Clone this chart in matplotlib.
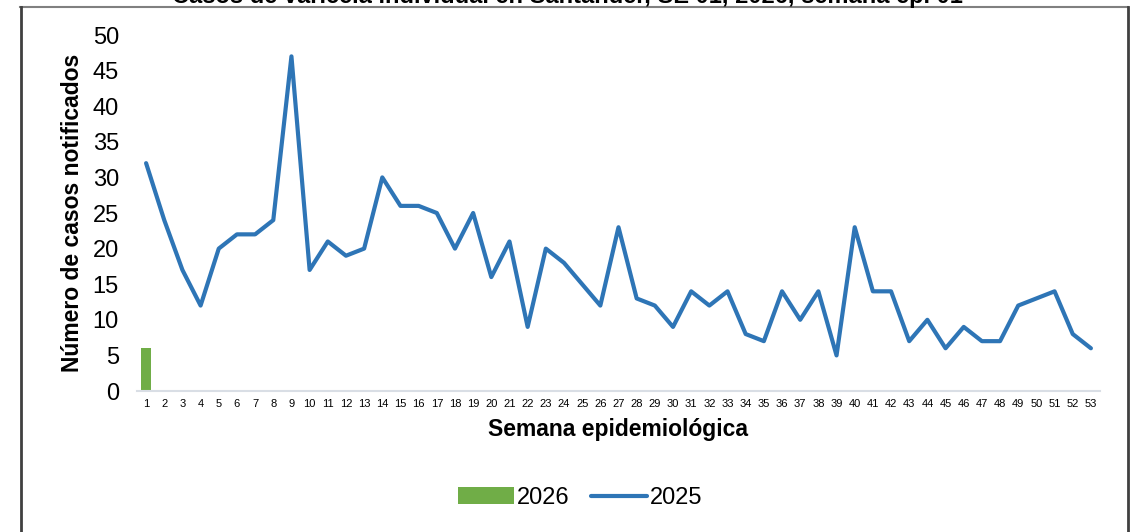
import numpy as np
import matplotlib
matplotlib.use('Agg')
import matplotlib.pyplot as plt
from matplotlib.lines import Line2D

plt.rcParams['font.family'] = ['Liberation Sans', 'DejaVu Sans']

# datos
semanas = list(range(1, 54))
casos_2025 = [32, 24, 17, 12, 20, 22, 22, 24, 47, 17,
              21, 19, 20, 30, 26, 26, 25, 20, 25, 16,
              21, 9, 20, 18, 15, 12, 23, 13, 12, 9,
              14, 12, 14, 8, 7, 14, 10, 14, 5, 23,
              14, 14, 7, 10, 6, 9, 7, 7, 12, 13,
              14, 8, 6]
semanas_2026 = [1]
casos_2026 = [6]

titulo = 'Casos de varicela individual en Santander, SE 01, 2026, semana epi 01'

fig = plt.figure(figsize=(11.37, 5.32), dpi=100)
ax = fig.add_axes([137/1137, 1 - 391/532, 963/1137, 356/532])

b = ax.bar(semanas_2026, casos_2026, width=0.55, color='#70ad47', label='2026', zorder=2)
l, = ax.plot(semanas, casos_2025, color='#2e75b6', linewidth=3, label='2025',
             solid_joinstyle='round', solid_capstyle='round', zorder=3)

ax.set_xlim(0.5, 53.5)
ax.set_ylim(0, 50)
ax.set_yticks(range(0, 51, 5))
ax.set_xticks(semanas)
ax.set_xticklabels([str(s) for s in semanas], fontsize=8)
ax.tick_params(axis='y', labelsize=17, length=0, pad=13)
ax.tick_params(axis='x', length=0, pad=6)

for lado in ['top', 'right', 'left']:
    ax.spines[lado].set_visible(False)
ax.spines['bottom'].set_color('#d9dee5')
ax.spines['bottom'].set_linewidth(1.5)

ax.set_ylabel('Número de casos notificados', fontsize=16.5, fontweight='bold', labelpad=6)
ax.set_xlabel('Semana epidemiológica', fontsize=16.5, fontweight='bold', labelpad=6)

# titulo (recortado arriba)
fig.text(567/1137, 1 - 3/532, titulo, ha='center', va='baseline',
         fontsize=17, fontweight='bold')

# marco
fig.add_artist(Line2D([20/1137, 1128/1137], [1 - 7/532, 1 - 7/532],
                      color='#808080', linewidth=1.5))
fig.add_artist(Line2D([20.5/1137, 20.5/1137], [0, 1 - 7/532],
                      color='#404040', linewidth=2))
fig.add_artist(Line2D([1128/1137, 1128/1137], [0, 1 - 7/532],
                      color='#404040', linewidth=2))

fig.legend([b, l], ['2026', '2025'], loc='center', bbox_to_anchor=(580/1137, 1 - 498/532),
           ncol=2, frameon=False, fontsize=17, handlelength=2.4, handletextpad=0.1,
           columnspacing=0.9)

fig.savefig('out.png', dpi=100)
